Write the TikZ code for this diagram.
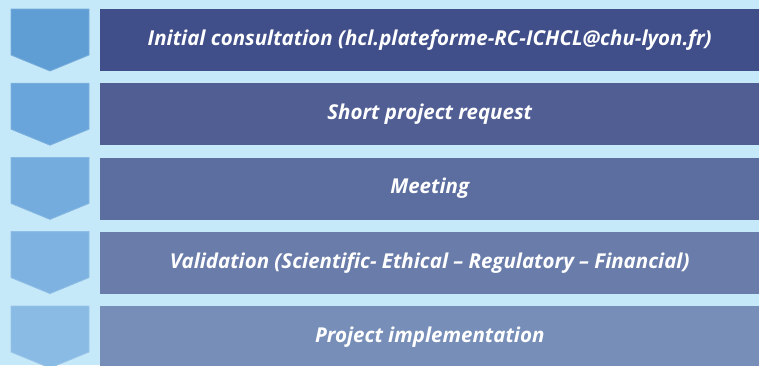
\documentclass[tikz,border=0pt]{standalone}
\usepackage{fontspec}
\setmainfont{Open Sans}
\definecolor{bg}{HTML}{C6E9F9}
\definecolor{ra}{HTML}{404F8A}
\definecolor{rb}{HTML}{505E94}
\definecolor{rc}{HTML}{5C6E9F}
\definecolor{rd}{HTML}{6A7DAA}
\definecolor{re}{HTML}{778FB8}
\definecolor{ca}{HTML}{5F9ED4}
\definecolor{cb}{HTML}{69A5DA}
\definecolor{cc}{HTML}{73ACDD}
\definecolor{cd}{HTML}{7EB3E1}
\definecolor{ce}{HTML}{89BBE4}
\tikzset{
  rowbox/.style={anchor=north west, minimum width=659bp, minimum height=62bp,
    inner sep=0pt, text=white, font=\fontsize{20.5bp}{24bp}\selectfont\bfseries\itshape},
  chev/.style={draw=#1!85!white, line width=0.8bp, fill=#1}
}
\begin{document}
\begin{tikzpicture}[x=1bp,y=-1bp]
\useasboundingbox (0,0) rectangle (759,365);
\clip (0,0) rectangle (759,365);
\fill[bg] (0,0) rectangle (759,365);
\foreach \y/\cc/\rc/\t [count=\i] in {
  9/ca/ra/{Initial consultation (hcl.plateforme-RC-ICHCL@chu-lyon.fr)},
  83.2/cb/rb/{Short project request},
  157.4/cc/rc/{Meeting},
  231.6/cd/rd/{Validation (Scientific- Ethical – Regulatory – Financial)},
  306/ce/re/{Project implementation}}{
  \node[rowbox, fill=\rc] (r\i) at (100,\y) {\t};
  \path[chev=\cc] (11,\y) -- (89,\y) -- (89,\y+46) -- (50,\y+62) -- (11,\y+46) -- cycle;
}
\end{tikzpicture}
\end{document}
